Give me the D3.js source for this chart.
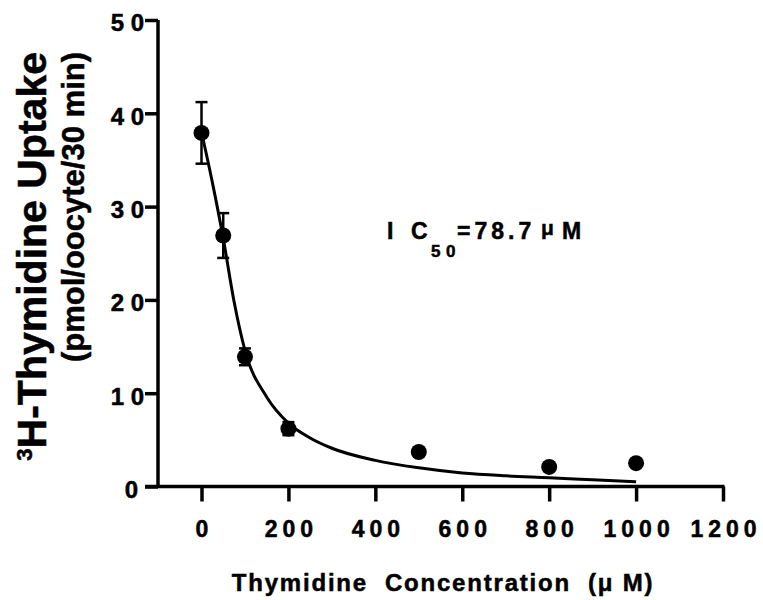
<!DOCTYPE html>
<html>
<head>
<meta charset="utf-8">
<script src="https://cdn.jsdelivr.net/npm/d3@7"></script>
<style>
  html, body { margin: 0; padding: 0; background: #fff; }
  svg { display: block; font-family: "Liberation Sans", Arial, Helvetica, sans-serif; font-weight: bold; }
  svg text { stroke: #000; stroke-width: 0.5px; }
</style>
</head>
<body>
<div id="chart"></div>
<script>
// measured points
const conc = [0, 50, 100, 200, 500, 800, 1000];
const uptake = [37.9, 26.9, 13.9, 6.2, 3.7, 2.1, 2.5];
const sem = [3.3, 2.4, 0.9, 0.7, 0, 0, 0];

// fitted curve
const fitX = [0, 25, 50, 75, 100, 150, 200, 250, 300, 400, 500, 600, 700, 800, 900, 1000];
const fitY = [38.0, 32.6, 26.6, 19.8, 14.6, 9.6, 6.8, 5.2, 4.1, 2.8, 2.0, 1.45, 1.15, 0.95, 0.72, 0.5];

const xTicks = [0, 200, 400, 600, 800, 1000, 1200];
const xTickLabels = ["0", "200", "400", "600", "800", "1000", "1200"];
const yTicks = [0, 10, 20, 30, 40, 50];
const yTickLabels = ["0", "1 0", "2 0", "3 0", "4 0", "5 0"];

var width = 763, height = 600;
var axisX = 158;

var svg = d3.select("#chart").append("svg")
  .attr("width", width)
  .attr("height", height);

var x = d3.scaleLinear().domain([0, 1200]).range([201.5, 723]);
var y = d3.scaleLinear().domain([0, 50]).range([486.5, 20]);

// x axis
var xAxis = svg.append("g")
  .attr("transform", `translate(0,${y(0)})`)
  .call(d3.axisBottom(x).tickValues(xTicks)
    .tickFormat((d, i) => xTickLabels[i])
    .tickSize(15).tickSizeOuter(0).tickPadding(19));
xAxis.select(".domain").remove();
xAxis.selectAll(".tick line").attr("stroke", "#000").attr("stroke-width", 3.5);
xAxis.selectAll(".tick text")
  .attr("fill", "#000")
  .attr("font-size", 23)
  .attr("font-weight", "bold")
  .attr("font-family", "Liberation Sans, Arial, sans-serif")
  .style("letter-spacing", "5px")
  .attr("dx", 2.5);

// y axis
var yAxis = svg.append("g")
  .attr("transform", `translate(${axisX},0)`)
  .call(d3.axisLeft(y).tickValues(yTicks)
    .tickFormat((d, i) => yTickLabels[i])
    .tickSize(13).tickSizeOuter(0).tickPadding(0));
yAxis.select(".domain").remove();
yAxis.selectAll(".tick line").attr("stroke", "#000").attr("stroke-width", 3.5);
yAxis.selectAll(".tick text")
  .attr("fill", "#000")
  .attr("font-size", 24)
  .attr("font-weight", "bold")
  .attr("font-family", "Liberation Sans, Arial, sans-serif")
  .style("white-space", "pre")
  .attr("x", d => d === 0 ? -20 : -14)
  .attr("dy", "0.45em");

// axis lines
svg.append("line")
  .attr("x1", axisX).attr("x2", axisX)
  .attr("y1", y(50)).attr("y2", y(0))
  .attr("stroke", "#000").attr("stroke-width", 3.5);
svg.append("line")
  .attr("x1", axisX - 13).attr("x2", x(1200) + 1.5)
  .attr("y1", y(0)).attr("y2", y(0))
  .attr("stroke", "#000").attr("stroke-width", 3.5);

// fit line
var fit = fitX.map((v, i) => [v, fitY[i]]);
svg.append("path")
  .datum(fit)
  .attr("fill", "none")
  .attr("stroke", "#000")
  .attr("stroke-width", 3)
  .attr("d", d3.line().x(d => x(d[0])).y(d => y(d[1])).curve(d3.curveMonotoneX));

// error bars
var pts = conc.map((c, i) => ({ c: c, v: uptake[i], e: sem[i] }));
var eb = svg.append("g").selectAll("g")
  .data(pts.filter(d => d.e > 0))
  .join("g")
  .attr("stroke", "#000")
  .attr("stroke-width", 2.5);
eb.append("line")
  .attr("x1", d => x(d.c)).attr("x2", d => x(d.c))
  .attr("y1", d => y(d.v + d.e)).attr("y2", d => y(d.v - d.e));
eb.append("line")
  .attr("x1", d => x(d.c) - 6).attr("x2", d => x(d.c) + 6)
  .attr("y1", d => y(d.v + d.e)).attr("y2", d => y(d.v + d.e));
eb.append("line")
  .attr("x1", d => x(d.c) - 6).attr("x2", d => x(d.c) + 6)
  .attr("y1", d => y(d.v - d.e)).attr("y2", d => y(d.v - d.e));

// points
svg.append("g").selectAll("circle")
  .data(pts)
  .join("circle")
  .attr("cx", d => x(d.c))
  .attr("cy", d => y(d.v))
  .attr("r", 8)
  .attr("fill", "#000");

// IC50 label
var ic = svg.append("text")
  .attr("y", 239)
  .attr("font-size", 23)
  .attr("fill", "#000");
ic.append("tspan").attr("x", 387).text("I");
ic.append("tspan").attr("x", 411).text("C");
ic.append("tspan").attr("x", 431).attr("y", 257).attr("font-size", 17).text("5");
ic.append("tspan").attr("x", 446).attr("y", 257).attr("font-size", 17).text("0");
ic.append("tspan").attr("x", 457).attr("y", 239).style("letter-spacing", "4px").text("=78.7");
ic.append("tspan").attr("x", 541).attr("y", 235).attr("font-size", 21).style("letter-spacing", "0px").text("\u03bc");
ic.append("tspan").attr("x", 562).attr("y", 239).text("M");

// x title
svg.append("text")
  .attr("x", 443)
  .attr("y", 591)
  .attr("text-anchor", "middle")
  .attr("font-size", 24)
  .attr("fill", "#000")
  .style("letter-spacing", "1.8px")
  .style("white-space", "pre")
  .text("Thymidine  Concentration  (\u03bc M)");

// y title, two lines
var yt = svg.append("text")
  .attr("transform", "translate(46,52) rotate(-90)")
  .attr("text-anchor", "end")
  .attr("fill", "#000");
yt.append("tspan").attr("font-size", 22).attr("dy", -14).text("3");
yt.append("tspan").attr("font-size", 41).attr("dy", 14).text("H-Thymidine Uptake");

svg.append("text")
  .attr("transform", "translate(84,52) rotate(-90)")
  .attr("text-anchor", "end")
  .attr("font-size", 31)
  .attr("fill", "#000")
  .text("(pmol/oocyte/30 min)");
</script>
</body>
</html>
